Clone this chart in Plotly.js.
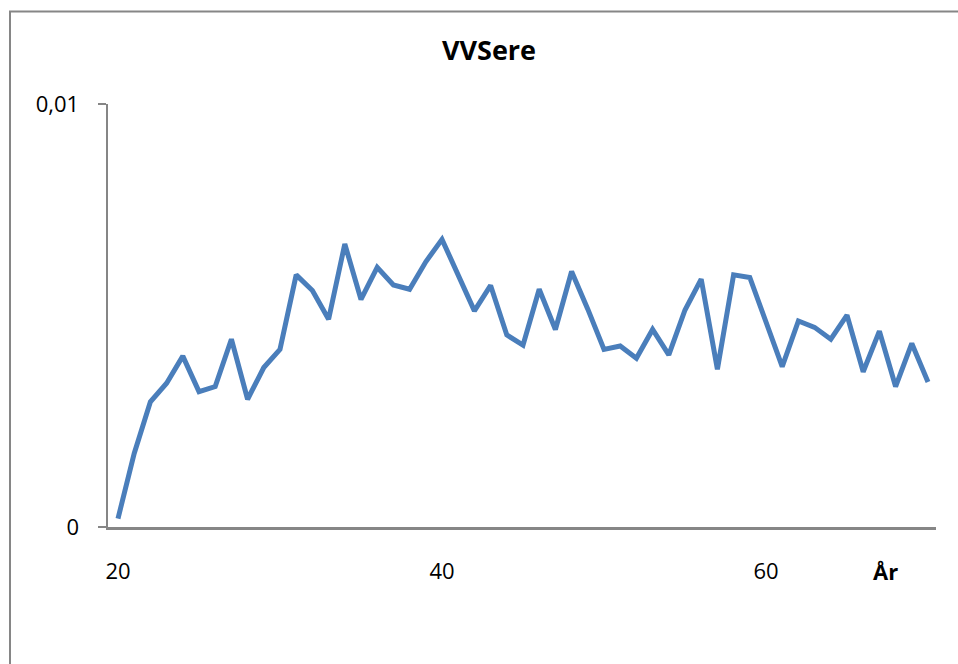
<!DOCTYPE html>
<html>
<head>
<meta charset="utf-8">
<script src="https://cdn.plot.ly/plotly-3.0.1.min.js"></script>
<style>
html,body{margin:0;padding:0;background:#fff;}
#chart{width:958px;height:664px;}
</style>
</head>
<body>
<div id="chart"></div>
<script>
const chartTitle = "VVSere";
const xAxisLabel = "År";
const ages = [20,21,22,23,24,25,26,27,28,29,30,31,32,33,34,35,36,37,38,39,40,41,42,43,44,45,46,47,48,49,50,51,52,53,54,55,56,57,58,59,60,61,62,63,64,65,66,67,68,69,70];
const values = [0.0002,0.00174,0.00296,0.0034,0.00404,0.0032,0.00332,0.00444,0.00302,0.00377,0.0042,
  0.00596,0.00559,0.00491,0.00669,0.00538,0.00614,0.00572,0.00562,0.00627,0.0068,
  0.00593,0.00511,0.00571,0.00454,0.0043,0.00562,0.00467,0.00604,0.00515,0.0042,
  0.00428,0.00399,0.00467,0.00407,0.00513,0.00586,0.00373,0.00596,0.0059,0.00485,
  0.00379,0.00487,0.00472,0.00444,0.00501,0.00367,0.00463,0.00332,0.00434,0.00343];
const xTickVals = [20,40,60];
const xTickText = ["20","40","60"];
const yTickVals = [0,0.01];
const yTickText = ["0","0,01"];

const font = "'Open Sans', Calibri, sans-serif";
const axisGray = "#868686";

const trace = {
  x: ages, y: values, type: "scatter", mode: "lines",
  line: {color: "#4A7EBB", width: 5, shape: "linear"},
  hoverinfo: "skip"
};

const L = 108, R = 22, T = 104, B = 137;
const pw = 958 - L - R, ph = 664 - T - B;

const layout = {
  width: 958, height: 664,
  margin: {l: L, r: R, t: T, b: B, pad: 0},
  paper_bgcolor: "#fff", plot_bgcolor: "#fff",
  showlegend: false,
  font: {family: font, color: "#000", size: 22},
  title: {text: "<b>" + chartTitle + "</b>", font: {family: font, size: 27, color: "#000"},
          x: 489 / 958, xanchor: "center", y: 1 - 51 / 664, yanchor: "middle", xref: "container", yref: "container"},
  xaxis: {
    range: [20 - 10/16.2, 70 + 8/16.2],
    tickvals: xTickVals, ticktext: xTickText,
    ticks: "", showgrid: false, zeroline: false,
    showline: true, linecolor: axisGray, linewidth: 2.5,
    ticklabelstandoff: 23,
    tickfont: {family: font, size: 22, color: "#000"}
  },
  yaxis: {
    range: [0, 0.01],
    tickvals: yTickVals, ticktext: yTickText,
    ticks: "outside", ticklen: 8, tickwidth: 2, tickcolor: axisGray,
    showgrid: false, zeroline: false,
    showline: true, linecolor: axisGray, linewidth: 2.5,
    ticklabelstandoff: 14,
    tickfont: {family: font, size: 22, color: "#000"}
  },
  annotations: [{
    text: "<b>" + xAxisLabel + "</b>", xref: "paper", yref: "paper",
    x: (885.5 - L) / pw, y: -(571 - 527) / ph, xanchor: "center", yanchor: "middle",
    showarrow: false, font: {family: font, size: 22, color: "#000"}
  }],
  shapes: [{
    type: "rect", xref: "paper", yref: "paper",
    x0: (10 - L) / pw, x1: (1000 - L) / pw,
    y0: -(720 - 527) / ph, y1: 1 + (T - 11.5) / ph,
    line: {color: axisGray, width: 2}, fillcolor: "rgba(0,0,0,0)", layer: "below"
  }]
};

Plotly.newPlot("chart", [trace], layout, {staticPlot: true, displayModeBar: false});
</script>
</body>
</html>
